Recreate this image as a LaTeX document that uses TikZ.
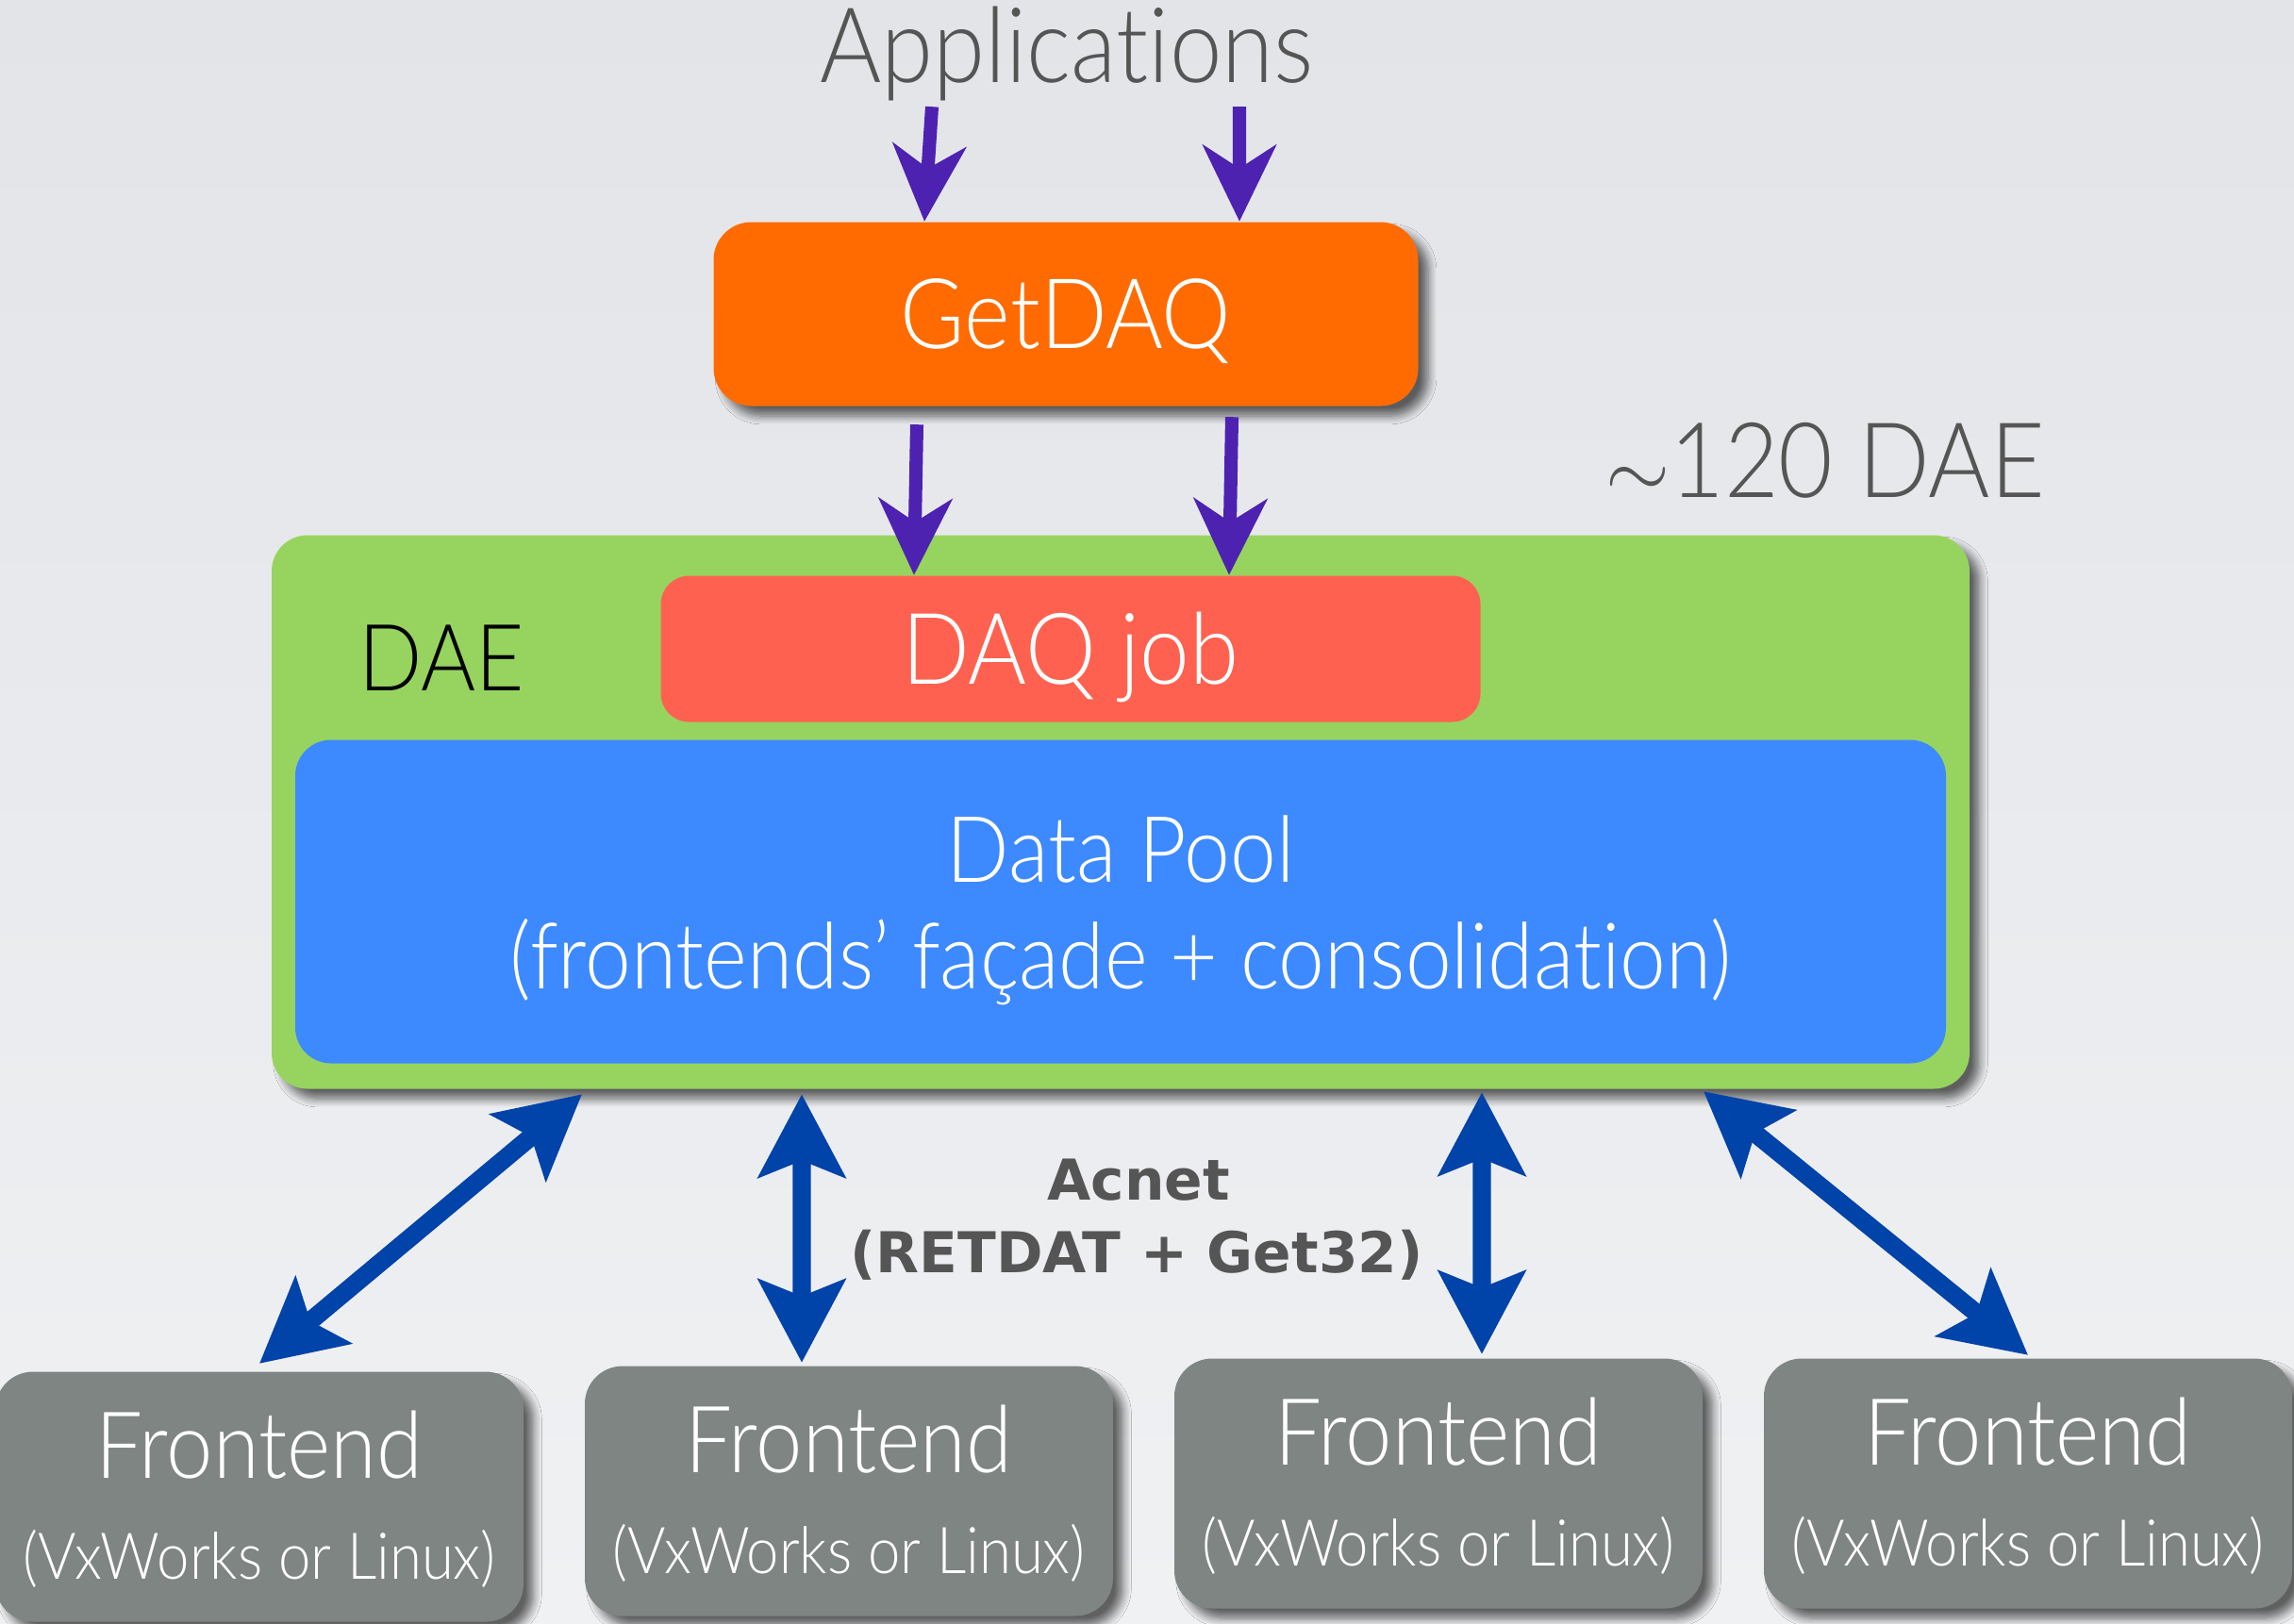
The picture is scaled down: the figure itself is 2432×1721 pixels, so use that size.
\documentclass[tikz,border=0pt]{standalone}
\usepackage{fontspec}
\setmainfont{Lato}[UprightFont=* Light, FakeStretch=0.9, Ligatures={TeX,NoCommon}]
\newfontfamily\acnetfont{DejaVu Sans}
\usetikzlibrary{arrows.meta,shadows.blur}

\definecolor{bgtop}{HTML}{E3E4E8}
\definecolor{bgbottom}{HTML}{F0F1F3}
\definecolor{getdaqorange}{HTML}{FF6B00}
\definecolor{daegreen}{HTML}{97D45F}
\definecolor{jobred}{HTML}{FF6150}
\definecolor{poolblue}{HTML}{3D89FF}
\definecolor{fegray}{HTML}{7F8582}
\definecolor{feedpurple}{HTML}{4D22B0}
\definecolor{linkblue}{HTML}{0043A9}
\definecolor{labelgray}{HTML}{555555}

\begin{document}
\begin{tikzpicture}[x=0.1mm, y=-0.1mm,
  box/.style={rounded corners=4mm, inner sep=0pt, text=white},
  shadowed/.style={blur shadow={shadow xshift=3pt, shadow yshift=-3pt,
    shadow blur radius=2.5pt, shadow blur steps=8, shadow opacity=60}},
  frontend/.style={box, shadowed, fill=fegray, minimum width=56mm, minimum height=26.5mm},
  lbl/.style={inner sep=0pt, anchor=base},
  feed/.style={draw=feedpurple, line width=4pt, -{Stealth[length=23pt, width=22pt, inset=7pt]}},
  link/.style={draw=linkblue, line width=5.5pt,
    {Stealth[length=25pt, width=26pt, inset=5pt]}-{Stealth[length=25pt, width=26pt, inset=5pt]}}]
\useasboundingbox (0,0) rectangle (2432,1721);
\shade [top color=bgtop, bottom color=bgbottom] (0,0) rectangle (2432,1721);

% top part
\node (app) at (1131, 87) [lbl, text=labelgray, font=\fontsize{31.5}{36}\selectfont] {Applications};
\node (getdaq) at (1130, 333) [box, shadowed, fill=getdaqorange, minimum width=74.7mm, minimum height=19.5mm,
  text height=21pt, text depth=0pt, font=\fontsize{29.4}{34}\selectfont] {GetDAQ};
\node (count) at (1935, 527) [lbl, text=labelgray, font=\fontsize{31.5}{36}\selectfont] {$\sim$120 DAE};

% DAE
\node (dae) at (1188, 861) [box, shadowed, fill=daegreen, minimum width=180mm, minimum height=58.7mm,
  rounded corners=3.8mm] {};
\node (daelbl) at (468, 732) [lbl, text=black, font=\fontsize{28}{32}\selectfont] {DAE};
\node (daqjob) at (1135, 688) [box, fill=jobred, minimum width=86.9mm, minimum height=15.5mm,
  rounded corners=3mm, text height=21.4pt, text depth=0pt, font=\fontsize{29.9}{34}\selectfont] {DAQ job};
\node (pool) at (1188, 956) [box, fill=poolblue, minimum width=175mm, minimum height=34.3mm,
  rounded corners=3.8mm] {};
\node (pool1) at (1188, 935) [lbl, text=white, font=\fontsize{27.7}{32}\selectfont] {Data Pool};
\node (pool2) at (1188, 1048) [lbl, text=white, font=\fontsize{27.7}{32}\selectfont] {(frontends' façade + consolidation)};

% frontends
\foreach \n/\x/\y in {1/275/1587, 2/900/1581, 3/1525/1573, 4/2150/1573} {
  \node (fe\n) at (\x, \y) [frontend] {};
  \node (fe\n-name) at ([yshift=-11.4mm]fe\n.north) [lbl, text=white, font=\fontsize{28}{32}\selectfont] {Frontend};
  \node (fe\n-os) at ([yshift=-22.1mm]fe\n.north) [lbl, text=white, font=\fontsize{19.5}{23}\selectfont] {(VxWorks or Linux)};
}

\node (acnet) at (1207, 1272) [lbl, text=labelgray, font=\acnetfont\bfseries\fontsize{17}{20}\selectfont] {Acnet};
\node (acnetsub) at (1205, 1349) [lbl, text=labelgray, font=\acnetfont\bfseries\fontsize{17}{20}\selectfont] {(RETDAT + Get32)};

% requests
\draw [feed] ([xshift=-14.3mm, yshift=-0.6mm]app.south) -- ([xshift=-15mm]getdaq.north);
\draw [feed] ([xshift=18.3mm, yshift=-0.6mm]app.south) -- ([xshift=18.4mm]getdaq.north);
\draw [feed] ([xshift=-15.8mm, yshift=-1.9mm]getdaq.south) -- ([xshift=-16.6mm]daqjob.north);
\draw [feed] ([xshift=17.6mm, yshift=-1.1mm]getdaq.south) -- ([xshift=16.8mm]daqjob.north);

% acnet links
\draw [link] ([yshift=0.8mm]fe1.north) -- ([xshift=-57.1mm, yshift=-0.5mm]dae.south);
\draw [link] ([xshift=-5mm, yshift=0.3mm]fe2.north) -- ([xshift=-33.8mm, yshift=-0.5mm]dae.south);
\draw [link] ([xshift=4.6mm, yshift=0.4mm]fe3.north) -- ([xshift=38.3mm, yshift=-0.3mm]dae.south);
\draw [link] ([yshift=0.3mm]fe4.north) -- ([xshift=61.8mm, yshift=-0.2mm]dae.south);
\end{tikzpicture}
\end{document}
